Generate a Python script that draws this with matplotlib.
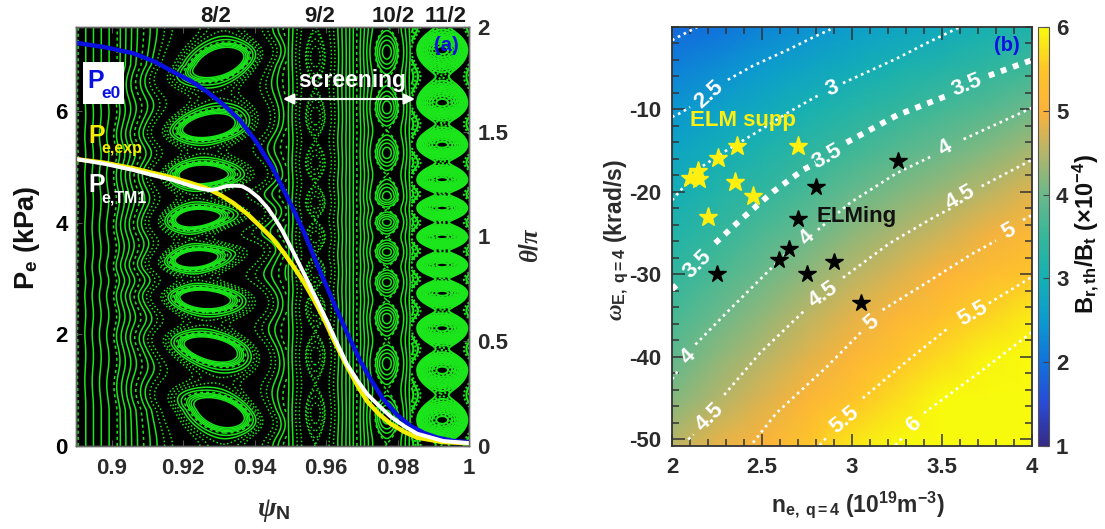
import numpy as np
import matplotlib
matplotlib.use("Agg")
import matplotlib.pyplot as plt
from matplotlib.colors import LinearSegmentedColormap
from matplotlib.ticker import MultipleLocator

plt.rcParams['font.family'] = ['Liberation Sans', 'DejaVu Sans']
plt.rcParams['font.weight'] = 'bold'
plt.rcParams['mathtext.fontset'] = 'custom'
plt.rcParams['mathtext.rm'] = 'Liberation Sans:bold'
plt.rcParams['mathtext.bf'] = 'Liberation Sans:bold'
plt.rcParams['mathtext.it'] = 'Liberation Serif:italic'

# panel (a): pressure profiles
psi_pe0 = [.8906, .898, .906, .912, .9183, .9225, .9267, .9313, .9359, .9405, .9452, .9494, .9536, .9583, .9634,
           .9665, .9696, .9728, .976, .98, .9836, .9875, .9911, .9955, .9998]
pe0 = [7.21, 7.14, 7.03, 6.88, 6.66, 6.52, 6.34, 6.11, 5.83, 5.44, 4.96, 4.42, 3.86, 3.13, 2.38,
       1.94, 1.52, 1.16, .84, .55, .36, .23, .15, .09, .07]
psi_exp = [.8906, .898, .906, .912, .9172, .922, .9267, .9305, .934, .938, .9416, .9449, .948, .9508, .9536, .9565,
           .9592, .9625, .9659, .9688, .9715, .9748, .978, .982, .9855, .9928, .9998]
pe_exp = [5.13, 5.07, 4.97, 4.88, 4.80, 4.71, 4.61, 4.49, 4.35, 4.15, 3.93, 3.72, 3.47, 3.22, 2.95, 2.63,
          2.3, 1.85, 1.42, 1.08, .8, .57, .4, .25, .15, .07, .05]
psi_tm1 = [.8906, .898, .906, .912, .9172, .921, .9247, .9272, .9295, .932, .9345, .9365, .9385, .941, .9435, .9456,
           .9477, .951, .9547, .9575, .9603, .963, .9659, .9688, .9715, .9748, .978, .982, .9855, .9928, .9998]
pe_tm1 = [5.13, 5.05, 4.94, 4.84, 4.76, 4.68, 4.61, 4.58, 4.60, 4.65, 4.66, 4.65, 4.58, 4.45, 4.27, 4.08,
          3.86, 3.45, 2.97, 2.60, 2.23, 1.85, 1.46, 1.17, .93, .72, .53, .35, .22, .09, .05]

# island chains (theta/pi of each O point)
chain_8 = [.172, .468, .702, .902, 1.093, 1.294, 1.523, 1.819]
chain_8_psi = [.9312, .9275, .9253, .9219, .9225, .9247, .9267, .9309]
chain_8_tilt = [.9, .6, .2, -.6, -.4, 0, -.4, -.9]
chain_9 = [.158, .434, .659, .831, .998, 1.16, 1.351, 1.570, 1.857]
chain_10 = [.138, .396, .611, .783, .926, 1.069, 1.189, 1.399, 1.613, 1.881]
chain_11 = [.124, .363, .563, .730, .864, .998, 1.136, 1.270, 1.437, 1.637, 1.890]
# centre, width, wave decay, left, right for each chain
chain_psi = [.928, .957, .977, .9925]
chain_w = [.0090, .0020, .0025, .0052]
chain_decay = [.024, .0065, .0055, .012]
chain_lo = [.89, .9489, .9665, .9839]
chain_hi = [.9489, .9665, .9839, 1.0]
chain_d_in = [[-.25, -.12, 0, .12, .25, .45, .7, .95, 1.2, 1.45],
              [-.5, .2, .8, 1.0],
              [-.7, -.2, .3, .8, 1.0],
              list(np.arange(-.88, 1.12, .11))]
chain_d_out = [np.r_[np.arange(.0150, .0270, .0014), np.arange(.0270, .0400, .0021)],
               np.arange(.0042, .0125, .0011),
               np.arange(.0044, .0110, .0010),
               np.arange(.0076, .0092, .0005)]

# panel (b): threshold map
n_grid = [2, 2.25, 2.5, 2.75, 3, 3.25, 3.5, 3.75, 4]
w_grid = [0, -5, -10, -15, -20, -25, -30, -35, -40, -45, -50.8]
b_grid = [[1.91, 2.00, 2.22, 2.40, 2.57, 2.72, 2.84, 3.05, 3.16],
          [2.18, 2.33, 2.54, 2.73, 2.90, 3.09, 3.24, 3.42, 3.59],
          [2.45, 2.65, 2.85, 3.06, 3.25, 3.45, 3.63, 3.81, 4.02],
          [2.70, 2.95, 3.15, 3.37, 3.59, 3.81, 4.00, 4.18, 4.41],
          [2.95, 3.21, 3.43, 3.67, 3.93, 4.14, 4.33, 4.54, 4.79],
          [3.19, 3.45, 3.72, 3.96, 4.24, 4.44, 4.66, 4.92, 5.15],
          [3.42, 3.71, 4.00, 4.25, 4.53, 4.76, 5.02, 5.28, 5.48],
          [3.65, 3.98, 4.26, 4.54, 4.81, 5.10, 5.39, 5.62, 5.85],
          [3.88, 4.23, 4.51, 4.80, 5.10, 5.43, 5.70, 5.93, 6.20],
          [4.15, 4.47, 4.75, 5.07, 5.45, 5.72, 6.00, 6.25, 6.55],
          [4.54, 4.85, 5.04, 5.49, 5.81, 6.05, 6.35, 6.60, 6.95]]

# dotted contours of the map, split where the labels sit
thin_n = [[2, 2.07, 2.14],
          [2, 2.05, 2.1], [2.31, 2.45, 2.64, 2.78, 2.88],
          [2, 2.08, 2.16, 2.3, 2.49, 2.65, 2.82], [2.95, 3.25, 3.42, 3.6],
          [2, 2.03], [2.13, 2.3, 2.54, 2.67], [2.81, 2.99, 3.25, 3.44], [3.62, 4],
          [2.09, 2.12], [2.29, 2.49, 2.74], [2.95, 3.21, 3.46, 3.55], [3.72, 4],
          [2.45, 2.58, 2.86, 3.05], [3.17, 3.4, 3.66, 3.8], [3.95, 4],
          [2.82, 2.87], [3.06, 3.3, 3.54], [3.76, 4],
          [3.24, 3.28], [3.4, 3.7, 4]]
thin_w = [[-1.6, -0.8, 0],
          [-10.9, -10.4, -9.7], [-6.4, -4.7, -2.8, -1.3, -0.3],
          [-21, -19, -17, -15, -12.5, -10.3, -8.2], [-6.8, -3.8, -1.9, 0],
          [-42.7, -41.8], [-38.5, -34.7, -29.5, -26.7], [-24.6, -21.3, -17.7, -15.7], [-13.6, -9.8],
          [-50, -49.4], [-44.6, -39.5, -34.3], [-30.4, -26.2, -23, -22], [-19.3, -16.1],
          [-50.4, -46.8, -41.2, -37], [-34.3, -31.2, -27.6, -25.9], [-23.4, -22.8],
          [-50.7, -49.5], [-45, -40.6, -36.4], [-33.5, -30.3],
          [-50.7, -49.8], [-46.8, -42, -37]]
thick_n = [[2, 2.05], [2.24, 2.38, 2.56, 2.73, 2.8], [2.97, 3.25, 3.52], [3.76, 4]]
thick_w = [[-31.8, -30.8], [-26.2, -23.4, -20, -17.3, -16.5], [-14, -10.7, -8.4], [-5.9, -4.0]]
label_n = [2.205, 2.89, 2.14, 2.86, 3.64, 2.09, 2.75, 3.52, 2.21, 2.84, 3.6, 3.11, 3.87, 2.96, 3.67, 3.34]
label_w = [-8.2, -7.5, -28.7, -15.7, -7, -40, -25.6, -14.7, -47.3, -32.5, -20.7, -35.9, -24.8, -47.6, -34.7, -48.2]
label_txt = ['2.5', '3', '3.5', '3.5', '3.5', '4', '4', '4', '4.5', '4.5', '4.5', '5', '5', '5.5', '5.5', '6']
label_rot = [42, 22, 45, 30, 22, 45, 45, 30, 45, 35, 30, 40, 30, 40, 30, 45]

supp_n = [2.70, 2.36, 2.255, 2.145, 2.10, 2.15, 2.35, 2.45, 2.2]
supp_w = [-14.4, -14.4, -15.9, -17.4, -18.3, -18.4, -18.8, -20.5, -23]
elming_n = [2.25, 2.595, 2.65, 2.75, 2.90, 3.05, 2.80, 2.70, 3.255]
elming_w = [-29.9, -28.2, -26.9, -30, -28.5, -33.5, -19.4, -23.3, -16.3]

cmap_vals = [1, 1.5, 2, 2.5, 3, 3.5, 4, 4.5, 5, 5.5, 6]
cmap_cols = ['#352a87', '#2a4ad6', '#1072dc', '#0c9bd0', '#14b0b4', '#35b79a', '#6ab98a',
             '#b4b56a', '#fcb23a', '#fec42a', '#f8fa0d']

W, H = 1105, 529
dark = '#2b2b2b'
green = '#1be51b'
blue = '#0a10e0'
yellow = '#f6ee00'


def px_axes(x0, y0, x1, y1):
    return [x0 / W, (H - y1) / H, (x1 - x0) / W, (y1 - y0) / H]


fig = plt.figure(figsize=(W / 100, H / 100), dpi=100)

# ---- panel (a) ----
ax_th = fig.add_axes(px_axes(76, 27, 469, 446))
ax_th.set_facecolor('black')
ax = ax_th.twinx()
ax.yaxis.tick_left()
ax.yaxis.set_label_position('left')
ax_th.yaxis.tick_right()
ax_th.yaxis.set_label_position('right')
ax.set_zorder(2)
ax.patch.set_visible(False)

psi = np.linspace(.89, 1, 1200)
th = np.linspace(0, 2, 1000)
P, T = np.meshgrid(psi, th)
chains = [chain_8, chain_9, chain_10, chain_11]
for i, c in enumerate(chains):
    c = np.array(c)
    c_ext = np.r_[c[-1] - 2, c, c[0] + 2]
    phase = np.interp(T, c_ext, 2 * np.pi * np.arange(-1, len(c) + 1))
    centre = chain_psi[i]
    dist = P - chain_psi[i]
    if i == 0:
        # the 8/2 islands sit at different radii and lean differently
        off = np.array(chain_8_psi)
        off_ext = np.r_[off[-1], off, off[0]]
        centre = centre + (np.interp(T, c_ext, off_ext) - centre) * np.exp(-(dist / .014) ** 2)
        tilt = np.array(chain_8_tilt)
        tilt_ext = np.r_[tilt[-1], tilt, tilt[0]]
        phase = phase + np.interp(T, c_ext, tilt_ext) * dist / chain_w[i]
    field = ((P - centre) / chain_w[i]) ** 2 - np.cos(phase) * np.exp(-(dist / chain_decay[i]) ** 2)
    field = np.ma.masked_where((P < chain_lo[i]) | (P > chain_hi[i]), field)
    levels = sorted(set(list(chain_d_in[i]) + list((chain_d_out[i] / chain_w[i]) ** 2)))
    n_in = len(chain_d_in[i])
    styles = []
    for k, lv in enumerate(levels):
        if i == 3:
            styles.append((0, (1, 1)) if k % 2 else 'solid')
        elif i == 1 and k < n_in + 2:
            styles.append((0, (1, 1.5)))
        elif i == 0 and 7 <= k <= 11:
            styles.append((0, (1, 1.5)))
        elif k % 5 == 4:
            styles.append((0, (2, 2)))
        else:
            styles.append('solid')
    lw = 1.5 if i == 3 else 1.1
    ax_th.contour(P, T, field, levels=levels, colors=green, linewidths=lw, linestyles=styles)

ax.plot(psi_pe0, pe0, color=blue, lw=3.2)
ax.plot(psi_exp, pe_exp, color=yellow, lw=3.2)
ax.plot(psi_tm1, pe_tm1, color='white', lw=2.8)

ax_th.set_xlim(.89, 1)
ax.set_ylim(0, 7.5)
ax_th.set_ylim(0, 2)
ax_th.set_xticks([.9, .92, .94, .96, .98, 1])
ax_th.set_xticklabels(['0.9', '0.92', '0.94', '0.96', '0.98', '1'])
ax.set_yticks([0, 2, 4, 6])
ax_th.set_yticks([0, .5, 1, 1.5, 2])
ax_th.set_yticklabels(['0', '0.5', '1', '1.5', '2'])
ax.tick_params(axis='y', labelsize=16, direction='in', length=4, color='#555555', labelcolor='black', pad=6)
ax_th.tick_params(axis='x', labelsize=16, direction='in', length=4, color='#555555', labelcolor=dark, pad=9, top=True)
ax_th.tick_params(axis='y', labelsize=16, direction='in', length=4, color='#555555', labelcolor=dark, pad=6)
for a in (ax, ax_th):
    for s in a.spines.values():
        s.set_color('#666666')
        s.set_linewidth(1.0)

for txt, x in zip(['8/2', '9/2', '10/2', '11/2'], [216, 320, 393, 446]):
    fig.text(x / W, 1 - 17 / H, txt, fontsize=16, color='#1a1a1a', ha='center', va='center')

fig.add_artist(plt.Rectangle((83 / W, 1 - 104 / H), 41 / W, 42 / H, transform=fig.transFigure,
                             facecolor='white', edgecolor='none', zorder=5))
fig.text(87 / W, 1 - 81 / H, 'P', fontsize=18, color=blue, zorder=6, va='center')
fig.text(101 / W, 1 - 93 / H, 'e0', fontsize=12.5, color=blue, zorder=6, va='center')
fig.text(88 / W, 1 - 136 / H, 'P', fontsize=18, color=yellow, zorder=6, va='center')
fig.text(101 / W, 1 - 149 / H, 'e,exp', fontsize=11.5, color=yellow, zorder=6, va='center')
fig.text(88 / W, 1 - 185 / H, 'P', fontsize=18, color='white', zorder=6, va='center')
fig.text(101 / W, 1 - 198 / H, 'e,TM1', fontsize=11.5, color='white', zorder=6, va='center')
fig.text(352 / W, 1 - 80 / H, 'screening', fontsize=16.5, color='white', ha='center', va='center', zorder=6)
fig.text(446 / W, 1 - 46 / H, '(a)', fontsize=14.5, color=blue, ha='center', va='center', zorder=6)
ax.annotate('', xy=(283 / W, 1 - 99 / H), xytext=(415 / W, 1 - 99 / H), xycoords='figure fraction',
            textcoords='figure fraction', zorder=6,
            arrowprops=dict(arrowstyle='<|-|>', color='white', lw=1.6, mutation_scale=16, shrinkA=0, shrinkB=0))

fig.text(27 / W, 1 - 238 / H, r'$\mathbf{P}_{\mathbf{e}}$ (kPa)', fontsize=19.5, rotation=90, ha='center', va='center', color='#111111')
fig.text(530 / W, 1 - 245 / H, r'$\mathit{\theta/\pi}$', fontsize=18, rotation=90, ha='center', va='center', color=dark)
fig.text(274 / W, 1 - 510 / H, r'$\mathit{\psi}_{\mathbf{N}}$', fontsize=20, ha='center', va='center', color=dark)

# ---- panel (b) ----
ax2 = fig.add_axes(px_axes(672, 27, 1032, 446))
cmap = LinearSegmentedColormap.from_list('parula_ish', [((v - 1) / 5, c) for v, c in zip(cmap_vals, cmap_cols)])
mesh = ax2.pcolormesh(n_grid, w_grid, np.array(b_grid), shading='gouraud', cmap=cmap, vmin=1, vmax=6)
for nn, ww in zip(thin_n, thin_w):
    ax2.plot(nn, ww, color='white', lw=1.9, linestyle=(0, (1, 1.5)))
for nn, ww in zip(thick_n, thick_w):
    ax2.plot(nn, ww, color='white', lw=4.2, linestyle=(0, (1, 1.2)))
for x, y, s, r in zip(label_n, label_w, label_txt, label_rot):
    ax2.text(x, y, s, color='white', fontsize=16, rotation=r, ha='center', va='center', rotation_mode='anchor')
ax2.plot(supp_n, supp_w, ls='none', marker='*', ms=14, color='#ffef10', mec='#ffef10')
ax2.plot(elming_n, elming_w, ls='none', marker='*', ms=13, color='black')
ax2.text(2.1, -12.6, 'ELM supp', color='#ffef10', fontsize=16, ha='left', va='bottom')
ax2.text(2.8, -23, 'ELMing', color='#111111', fontsize=16, ha='left', va='center')
ax2.text(3.79, -2.2, '(b)', color=blue, fontsize=14.5, ha='left', va='center')
ax2.set_xlim(2, 4)
ax2.set_ylim(-50.8, 0)
ax2.set_xticks([2, 2.5, 3, 3.5, 4])
ax2.set_xticklabels(['2', '2.5', '3', '3.5', '4'])
ax2.set_yticks([-10, -20, -30, -40, -50])
ax2.set_yticklabels(['-10', '-20', '-30', '-40', '-50'])
ax2.xaxis.set_minor_locator(MultipleLocator(.1))
ax2.yaxis.set_minor_locator(MultipleLocator(2))
ax2.tick_params(which='major', direction='in', length=9, width=1.1, top=True, right=True, color='#333333',
                labelsize=16, labelcolor=dark, pad=8)
ax2.tick_params(which='minor', direction='in', length=5, width=1.1, top=True, right=True, color='#333333')
for s in ax2.spines.values():
    s.set_color('#333333')
    s.set_linewidth(1.3)

cax = fig.add_axes(px_axes(1038, 27, 1049, 446))
cb = fig.colorbar(mesh, cax=cax, ticks=[1, 2, 3, 4, 5, 6])
cb.ax.tick_params(labelsize=16, direction='in', length=4, color='#444444', labelcolor=dark, pad=5)
cb.outline.set_edgecolor('#555555')

fig.text(858 / W, 1 - 505 / H, r'$\mathbf{n}_{\mathbf{e,\ q=4}}$ $\mathbf{(10^{19}m^{-3})}$', fontsize=16.5,
         ha='center', va='center', color=dark)
fig.text(616 / W, 1 - 240 / H, r'$\mathit{\omega}_{\mathbf{E,\ q=4}}$ (krad/s)', fontsize=16.5, rotation=90,
         ha='center', va='center', color=dark)
fig.text(1086 / W, 1 - 234 / H, r'$\mathbf{B}_{\mathbf{r,th}}\mathbf{/B}_{\mathbf{t}}$ ($\times\mathbf{10^{-4}}$)',
         fontsize=17, rotation=90, ha='center', va='center', color='#111111')

fig.savefig('out.png', dpi=100)
